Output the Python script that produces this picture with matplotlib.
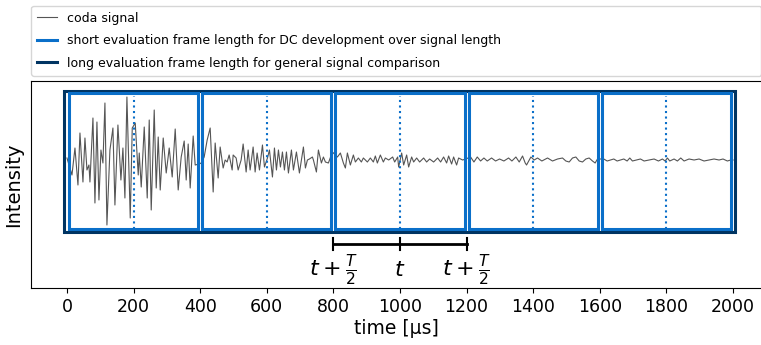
import matplotlib
matplotlib.use("Agg")
import matplotlib.pyplot as plt
from matplotlib.patches import Rectangle

# coda signal (time in us, intensity in arbitrary units)
t_us = [0, 15, 24, 33, 39, 48, 54, 60, 66, 69, 78, 84, 90, 96, 102, 108, 114, 120, 129, 138,
        144, 153, 162, 168, 174, 180, 190, 196, 205, 214, 217, 223, 232, 241, 247, 253, 262, 268, 274, 280,
        289, 298, 307, 316, 325, 334, 343, 352, 358, 364, 370, 379, 385, 397, 403, 412, 421, 430, 439, 445,
        454, 460, 469, 475, 481, 487, 496, 499, 508, 514, 523, 529, 538, 544, 550, 559, 565, 571, 578, 587,
        593, 602, 608, 617, 623, 629, 635, 641, 647, 653, 659, 665, 674, 680, 689, 698, 710, 716, 722, 728,
        737, 740, 749, 755, 764, 770, 776, 785, 797, 812, 821, 830, 836, 842, 851, 860, 866, 875, 884, 890,
        902, 911, 920, 926, 932, 941, 950, 956, 966, 978, 984, 993, 996, 1005, 1011, 1020, 1026, 1035, 1041, 1050,
        1059, 1071, 1080, 1089, 1101, 1113, 1122, 1131, 1140, 1146, 1155, 1161, 1170, 1176, 1188, 1197, 1212, 1222, 1232, 1242,
        1252, 1262, 1275, 1287, 1299, 1312, 1326, 1336, 1348, 1358, 1368, 1376, 1380, 1393, 1403, 1413, 1426, 1443, 1458, 1473,
        1488, 1498, 1508, 1518, 1528, 1538, 1548, 1558, 1568, 1578, 1586, 1593, 1612, 1622, 1632, 1642, 1652, 1662, 1672, 1682,
        1690, 1698, 1710, 1722, 1733, 1748, 1763, 1776, 1788, 1796, 1803, 1810, 1823, 1833, 1843, 1853, 1868, 1883, 1898, 1913,
        1928, 1943, 1958, 1970, 1983, 1993, 2000]
intensity = [0, -17, 10, -27, 25, -24, 20, -12, -7, -24, 40, -45, 36, -42, 8, -5, 55, -67, 8, 30,
             -47, 33, -22, 10, -40, 61, -60, 30, 35, -17, 5, -29, 31, -40, 38, -52, 48, -30, 21, -32,
             20, -15, 10, -19, 29, -32, 1, 17, -22, 14, -30, 22, -7, -6, -5, 1, 18, 30, -34, 15,
             -20, 11, -10, -2, -4, 3, -12, 3, 0, -12, -2, 14, -14, 8, -12, 11, -14, 5, -12, 13,
             -9, 0, 8, -19, 10, -12, 8, -9, 6, -12, 6, -15, 8, -12, 6, -15, 11, -10, -2, -1,
             1, -2, -14, 8, -5, 1, -4, -5, 6, 1, 5, -5, -10, 5, -7, 3, -4, 0, -4, 0,
             -4, 0, -4, 2, -5, 3, -4, 0, -2, 1, -4, 1, -9, 5, -7, 3, -9, 1, -4, 0,
             -4, 0, -4, -1, -4, 0, -4, 1, -5, 2, -6, 1, -7, 0, -2, -1, 1, -4, 1, -3,
             0, -3, 0, -3, -1, -3, 0, -3, 1, -4, 2, -5, -7, 1, -2, 0, -3, 0, -3, -1,
             0, -3, -4, 0, 1, -3, -4, -1, 0, -3, -5, -1, -1, -3, -2, -1, -3, -2, -1, -3,
             0, -3, -2, -1, -3, -2, -1, -3, -1, -3, 0, -3, -1, -3, 0, -3, -1, -2, -1, -3,
             -2, -1, -2, -1, -3, -2, -2]

frame_starts = [0, 400, 800, 1200, 1600]   # short evaluation frames
frame_len = 400
long_frame = (0, 2000)
bracket_ticks = [800, 1000, 1200]
bracket_labels = [r'$t+\frac{T}{2}$', r'$t$', r'$t+\frac{T}{2}$']
xticks = [0, 200, 400, 600, 800, 1000, 1200, 1400, 1600, 1800, 2000]

light = '#0a6fc9'
dark = '#003462'

fig = plt.figure(figsize=(7.61, 3.45), dpi=100)
ax = fig.add_axes([31 / 761, 57 / 345, 730 / 761, 207 / 345])

sig, = ax.plot(t_us, intensity, color='#555555', lw=0.8, label='coda signal')

# long frame
ax.add_patch(Rectangle((long_frame[0] - 9, -74), long_frame[1] - long_frame[0] + 15, 141,
                       fill=False, ec=dark, lw=2.2, zorder=3))
# short frames with dotted centre lines
for s in frame_starts:
    ax.add_patch(Rectangle((s + 6, -71), frame_len - 12, 136,
                           fill=False, ec=light, lw=2.2, zorder=4))
    ax.plot([s + frame_len / 2] * 2, [-71, 62], color=light, ls=':', lw=1.5, zorder=4)

# bracket below the third frame
ax.plot([bracket_ticks[0], bracket_ticks[-1]], [-86, -86], color='black', lw=2)
for x, lab in zip(bracket_ticks, bracket_labels):
    ax.plot([x, x], [-80, -92], color='black', lw=1.5)
    ax.text(x, -112, lab, ha='center', va='center', fontsize=16)

ax.set_xlim(-108, 2084)
ax.set_ylim(-130, 77)
ax.set_xticks(xticks)
ax.set_yticks([])
ax.tick_params(axis='x', labelsize=12.5)
ax.spines['right'].set_visible(False)
ax.set_xlabel('time [µs]', fontsize=13.5, labelpad=2)
ax.set_ylabel('Intensity', fontsize=14, labelpad=6)

h_short, = ax.plot([], [], color=light, lw=2.2,
                   label='short evaluation frame length for DC development over signal length')
h_long, = ax.plot([], [], color=dark, lw=2.2,
                  label='long evaluation frame length for general signal comparison')
ax.legend(handles=[sig, h_short, h_long], loc='lower left', bbox_to_anchor=(0, 1.025, 1.0, 0.2),
          mode='expand', borderaxespad=0, fontsize=9, handlelength=1.6,
          labelspacing=0.75, borderpad=0.5)

fig.savefig('out.png', dpi=100)
